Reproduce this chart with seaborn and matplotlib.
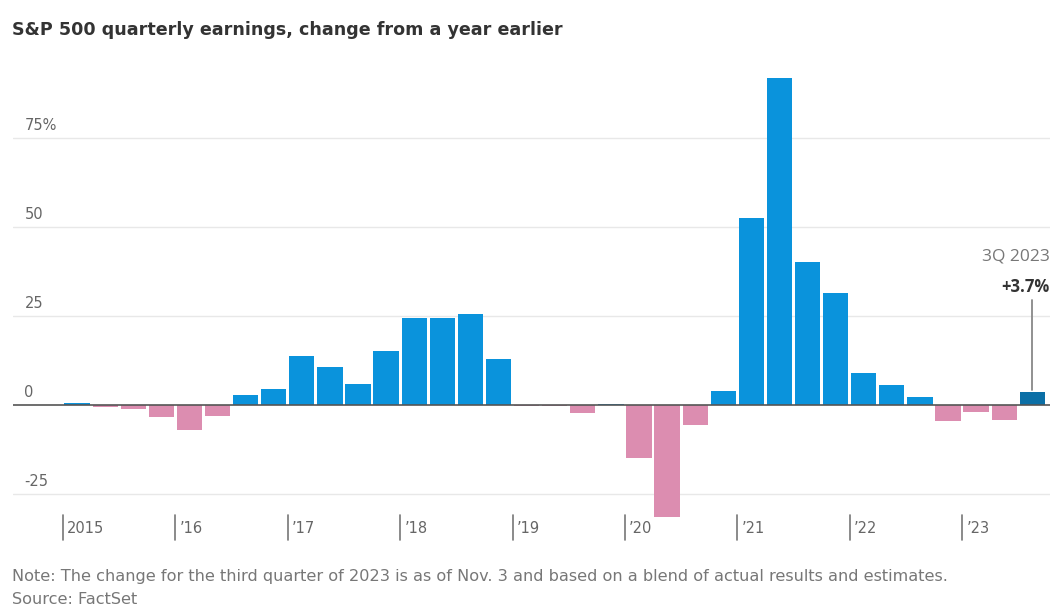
import matplotlib
matplotlib.use("Agg")
import matplotlib.pyplot as plt
from matplotlib import font_manager
import seaborn as sns

# ---------------------------
# data: S&P 500 quarterly earnings, % change from a year earlier
quarters = [f"{q}Q {y}" for y in range(2015, 2024) for q in range(1, 5)][:35]
values = [
    0.5, -0.5, -1.2, -3.5,      # 2015
    -7.0, -3.2, 2.8, 4.4,       # 2016
    13.9, 10.6, 6.0, 15.3,      # 2017
    24.3, 24.3, 25.7, 13.0,     # 2018
    -0.3, -0.3, -2.3, 0.4,      # 2019
    -14.8, -31.5, -5.6, 3.9,    # 2020
    52.6, 91.8, 40.1, 31.4,     # 2021
    9.0, 5.7, 2.3, -4.6,        # 2022
    -2.0, -4.2, 3.7,            # 2023
]
year_labels = ["2015", "\u201916", "\u201917", "\u201918", "\u201919",
               "\u201920", "\u201921", "\u201922", "\u201923"]
y_ticks = [-25, 0, 25, 50, 75]
y_tick_labels = ["-25", "0", "25", "50", "75%"]

BLUE = "#0a93dc"
PINK = "#dc8db0"
DARK = "#0b6fa6"
colors = [DARK if i == len(values) - 1 else (BLUE if v >= 0 else PINK)
          for i, v in enumerate(values)]

# narrow font if available
names = {f.name for f in font_manager.fontManager.ttflist}
NARROW = "Liberation Sans Narrow" if "Liberation Sans Narrow" in names else "DejaVu Sans"

sns.set_theme(style="white")
plt.rcParams["font.family"] = ["Open Sans", "DejaVu Sans"]

fig = plt.figure(figsize=(10.54, 6.09), dpi=100)
ax = fig.add_axes([13 / 1054, 89 / 609, 1037 / 1054, 455 / 609])

sns.barplot(x=quarters, y=values, hue=quarters, palette=colors, legend=False,
            width=0.9, linewidth=0, saturation=1, ax=ax, zorder=2)

ax.set_xlim(-2.28, 34.63)
ax.set_ylim(-32.3, 95.5)
for s in ax.spines.values():
    s.set_visible(False)
ax.set_xticks([])
ax.set_yticks([])
ax.set_xlabel("")
ax.set_ylabel("")

# gridlines
for t in y_ticks:
    if t == 0:
        ax.axhline(0, color="#555555", lw=1.2, zorder=3)
    else:
        ax.axhline(t, color="#e8e8e8", lw=1, zorder=0)

ytrans = ax.get_yaxis_transform()
for t, lab in zip(y_ticks, y_tick_labels):
    ax.text(0.011, t + 3.4, lab, transform=ytrans, ha="left", va="center",
            fontsize=10.5, color="#666666", family=NARROW)

# year ticks below the plot
xtrans = ax.get_xaxis_transform()
for k, lab in enumerate(year_labels):
    x0 = -0.5 + 4 * k
    ax.plot([x0, x0], [0.011, -0.044], transform=xtrans, color="#777777",
            lw=1.2, clip_on=False)
    ax.text(x0 + 0.15, -0.018, lab, transform=xtrans, ha="left", va="center",
            fontsize=10.5, color="#666666", family=NARROW)

# annotation for latest quarter
last = len(values) - 1
ax.plot([last, last], [values[-1] + 0.6, 29.5], color="#888888", lw=1.3, zorder=3)
ax.text(34.63, 33.1, f"+{values[-1]:.1f}%", ha="right", va="center",
        fontsize=12, fontweight="bold", color="#333333")
ax.text(34.63, 41.6, "3Q 2023", ha="right", va="center",
        fontsize=12.5, color="#777777")

fig.text(12 / 1054, 1 - 30 / 609, "S&P 500 quarterly earnings, change from a year earlier",
         ha="left", va="center", fontsize=12.6, fontweight="bold", color="#333333",
         family="DejaVu Sans")
fig.text(12 / 1054, 1 - 577 / 609,
         "Note: The change for the third quarter of 2023 is as of Nov. 3 and based on a blend of actual results and estimates.",
         ha="left", va="center", fontsize=11.6, color="#777777", family=NARROW)
fig.text(12 / 1054, 1 - 600 / 609, "Source: FactSet", ha="left", va="center",
         fontsize=11.6, color="#777777", family=NARROW)

fig.savefig("out.png", dpi=100)
